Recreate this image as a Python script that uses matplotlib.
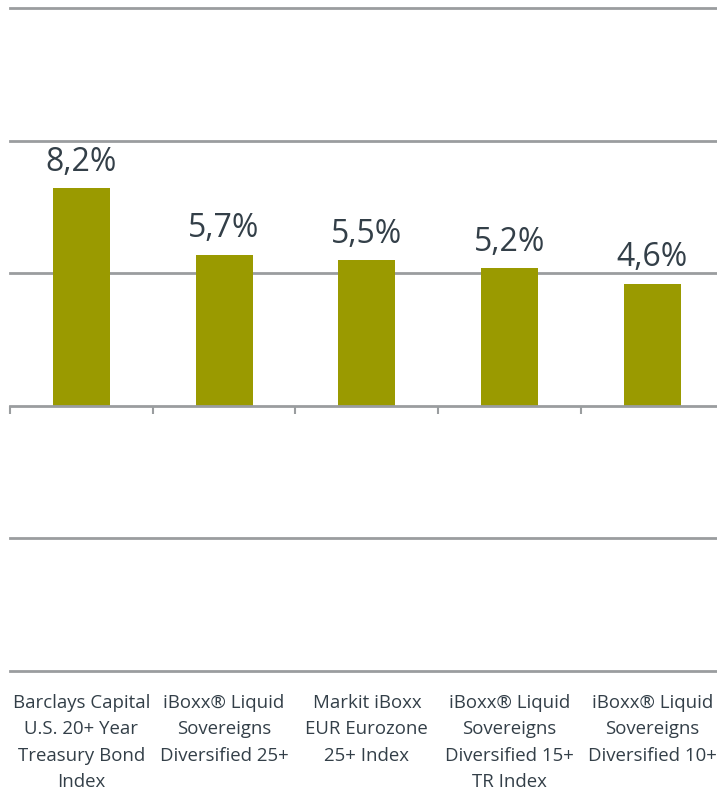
import matplotlib
matplotlib.use("Agg")
import matplotlib.pyplot as plt
from matplotlib.transforms import offset_copy

categories = [
    "Barclays Capital\nU.S. 20+ Year\nTreasury Bond\nIndex",
    "iBoxx® Liquid\nSovereigns\nDiversified 25+",
    "Markit iBoxx\nEUR Eurozone\n25+ Index",
    "iBoxx® Liquid\nSovereigns\nDiversified 15+\nTR Index",
    "iBoxx® Liquid\nSovereigns\nDiversified 10+",
]
values = [8.2, 5.7, 5.5, 5.2, 4.6]
value_labels = ["8,2%", "5,7%", "5,5%", "5,2%", "4,6%"]
gridlines = [-10, -5, 5, 10, 15]

plt.rcParams['font.family'] = ['Open Sans', 'DejaVu Sans']
text_color = "#333f48"
bar_color = "#9a9a00"
grid_color = "#9a9d9f"

fig = plt.figure(figsize=(7.17, 7.92), dpi=100)
W, H = 717, 792
ax = fig.add_axes([10 / W, (H - 671) / H, (717 - 10) / W, (671 - 8) / H])
ax.set_ylim(-10, 15)
ax.set_xlim(-0.5, 4.5 - (723.75 - 717) / 142.75)

for g in gridlines:
    ax.axhline(g, color=grid_color, lw=2, zorder=1, clip_on=False)

x = list(range(len(values)))
ax.bar(x, values, width=0.40, color=bar_color, zorder=2)

for xi, v, lab in zip(x, values, value_labels):
    ax.annotate(lab, (xi, v), xytext=(0, 12.5), textcoords="offset points",
                ha="center", va="baseline", fontsize=23, color=text_color,
                fontweight="medium")

for s in ["top", "right", "left"]:
    ax.spines[s].set_visible(False)
ax.spines["bottom"].set_position(("data", 0))
ax.spines["bottom"].set_color(grid_color)
ax.spines["bottom"].set_linewidth(2)
ax.set_xticks([-0.5, 0.5, 1.5, 2.5, 3.5])
ax.set_xticklabels([])
ax.tick_params(axis="x", direction="out", length=6, width=1.5, color=grid_color)
ax.set_yticks([])

trans = offset_copy(ax.transData, fig=fig, x=0, y=-23, units="dots")
for xi, c in zip(x, categories):
    ax.text(xi, -10, c, transform=trans, ha="center", va="top",
            fontsize=13.4, color=text_color, linespacing=1.6, clip_on=False)

fig.savefig("out.png", dpi=100)
